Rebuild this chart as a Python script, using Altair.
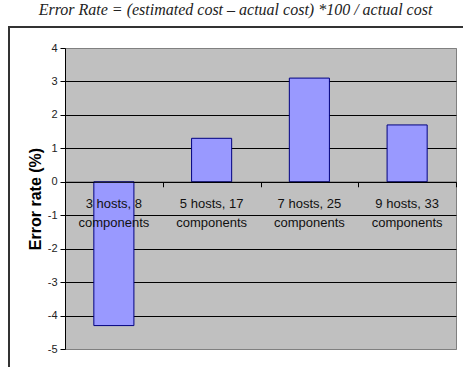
import altair as alt
import pandas as pd

# Host / component configurations and the measured error rates (%)
hosts = ["3 hosts, 8", "5 hosts, 17", "7 hosts, 25", "9 hosts, 33"]
components = ["components", "components", "components", "components"]
error_rate = [-4.3, 1.3, 3.1, 1.7]
y_ticks = [-5, -4, -3, -2, -1, 0, 1, 2, 3, 4]

df = pd.DataFrame(
    {
        "config": [f"{h} {c}" for h, c in zip(hosts, components)],
        "label": [f"{h}\n{c}" for h, c in zip(hosts, components)],
        "error": error_rate,
    }
)

W, H = 391, 301
y_min, y_max = -5, 4
# pixel position of the zero line, measured from the top of the plot
zero_px = H * (y_max - 0) / (y_max - y_min)

title = alt.TitleParams(
    text="Error Rate = (estimated cost \u2013 actual cost) *100 / actual cost",
    font="Liberation Serif",
    fontStyle="italic",
    fontWeight="normal",
    fontSize=16,
    color="#222222",
    anchor="middle",
    dx=-25,
    offset=8,
)

# outer chart frame
frame = alt.Chart(alt.Data(values=[{}])).mark_rect(
    fill="transparent", stroke="#333333", strokeWidth=2
).encode(
    x=alt.value(-56),
    x2=alt.value(W + 20),
    y=alt.value(-21),
    y2=alt.value(H + 30),
)

x_enc = alt.X(
    "config:N",
    sort=None,
    scale=alt.Scale(paddingInner=0, paddingOuter=0),
    axis=alt.Axis(
        title=None,
        orient="bottom",
        offset=-(H - zero_px),
        labels=False,
        tickBand="extent",
        tickSize=5,
        tickColor="#000000",
        domainColor="#000000",
        domainWidth=1,
        grid=False,
        zindex=1,
    ),
)

bars = alt.Chart(df).mark_bar(
    color="#9999FF",
    stroke="#000080",
    strokeWidth=1,
    width=alt.RelativeBandSize(0.41),
).encode(
    x=x_enc,
    y=alt.Y(
        "error:Q",
        scale=alt.Scale(domain=[y_min, y_max], nice=False, zero=False),
        axis=alt.Axis(
            title="Error rate (%)",
            values=y_ticks,
            labelExpr="toString(datum.value)",
            titleFont="Liberation Sans",
            titleFontSize=16,
            titleFontWeight="bold",
            titleColor="#000000",
            titleX=-22,
            titleY=H / 2,
            titleAngle=-90,
            titleAlign="center",
            titleBaseline="bottom",
            labelFont="Liberation Sans",
            labelFontSize=11,
            labelColor="#222222",
            labelPadding=3,
            tickSize=5,
            tickColor="#000000",
            domainColor="#000000",
            gridColor={
                "condition": {
                    "test": f"datum.value == {y_min} || datum.value == {y_max}",
                    "value": "#808080",
                },
                "value": "#000000",
            },
            gridWidth=1,
            zindex=0,
        ),
    ),
)

# category labels just below the zero line, drawn over the bars
labels = alt.Chart(df).mark_text(
    font="Liberation Sans",
    fontSize=13,
    color="#111111",
    lineBreak="\n",
    lineHeight=19,
    baseline="top",
    align="center",
).encode(
    x=alt.X("config:N", sort=None),
    y=alt.value(zero_px + 16),
    text="label:N",
)

chart = (
    alt.layer(frame, bars, labels)
    .properties(
        width=W,
        height=H,
        title=title,
        autosize=alt.AutoSizeParams(type="none"),
        padding={"left": 65, "top": 48, "right": 7, "bottom": 18},
        background="#FFFFFF",
    )
    .configure_view(fill="#C0C0C0", stroke="#808080", strokeWidth=1)
)

chart.save("out.html", embed_options={"renderer": "svg", "actions": False})
